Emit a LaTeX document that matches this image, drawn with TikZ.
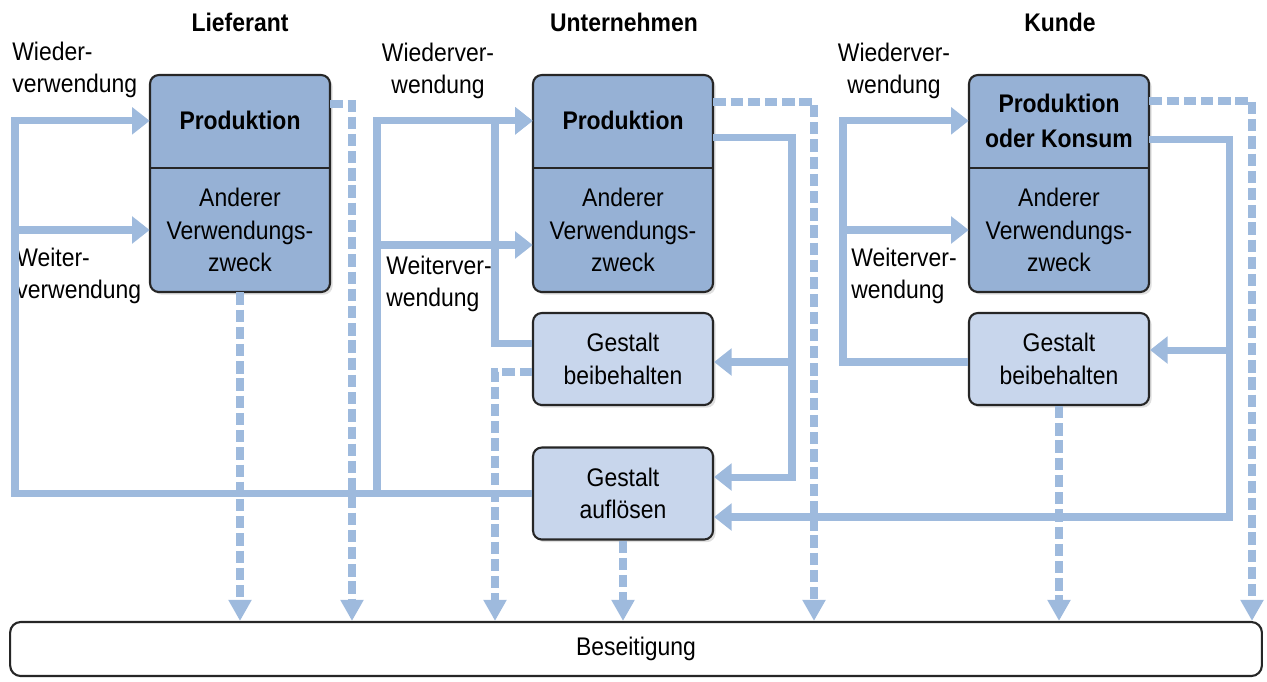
\documentclass[tikz,border=0pt]{standalone}
\usepackage{fontspec}
\setmainfont{Liberation Sans}[FakeStretch=0.9]
\usetikzlibrary{positioning,arrows.meta,shadows}
\definecolor{boxblue}{RGB}{150,177,213}
\definecolor{paleblue}{RGB}{200,214,236}
\definecolor{flowblue}{RGB}{158,186,221}
\tikzset{
    txt/.style ={
        font=\fontsize{14.5}{18.5}\selectfont,
        inner sep=0pt
    },
    head/.style ={
        txt,
        font=\fontsize{14.5}{18.5}\selectfont\bfseries
    },
    bigbox/.style ={
        shape=rectangle,
        rounded corners=5pt,
        draw=black!85,
        line width=1.2pt,
        fill=boxblue,
        minimum width=3.6cm,
        minimum height=4.34cm,
        drop shadow={opacity=0.25,shadow xshift=1.5pt,shadow yshift=-1.5pt}
    },
    toppart/.style ={
        txt,
        align=center,
        minimum width=3.6cm,
        minimum height=1.86cm
    },
    botpart/.style ={
        txt,
        align=center,
        minimum width=3.6cm,
        minimum height=2.48cm
    },
    smallbox/.style ={
        txt,
        align=center,
        rounded corners=5pt,
        draw=black!85,
        line width=1.2pt,
        fill=paleblue,
        minimum width=3.6cm,
        minimum height=1.84cm,
        drop shadow={opacity=0.25,shadow xshift=1.5pt,shadow yshift=-1.5pt}
    },
    endbox/.style ={
        txt,
        rounded corners=6pt,
        draw=black!85,
        line width=1.2pt,
        fill=white,
        minimum width=25.04cm,
        minimum height=1.08cm
    },
    flow/.style ={
        draw=flowblue,
        line width=4pt,
        -{Triangle[width=15pt,length=10pt]}
    },
    dflow/.style ={
        draw=flowblue,
        line width=4.4pt,
        dash pattern=on 7pt off 2.8pt,
        -{Triangle[width=12.5pt,length=12pt]}
    }
}

\begin{document}
\begin{tikzpicture}[x=0.02cm,y=-0.02cm]
    \useasboundingbox (0,0) rectangle (1267,681);

    % column heads
    \node[head] (hLief) at (240,22) {Lieferant};
    \node[head] (hUnt) at (624,22) {Unternehmen};
    \node[head] (hKun) at (1060,22) {Kunde};

    % main boxes
    \node[bigbox] (lief) at (240,183.5) {};
    \node[toppart, below=0pt of lief.north] (liefP) {\bfseries Produktion};
    \node[botpart, below=0pt of liefP] (liefA) {Anderer\\Verwendungs-\\zweck};
    \draw[black!85, line width=1.2pt] (liefA.north west) -- (liefA.north east);

    \node[bigbox] (unt) at (623,183.5) {};
    \node[toppart, below=0pt of unt.north] (untP) {\bfseries Produktion};
    \node[botpart, below=0pt of untP] (untA) {Anderer\\Verwendungs-\\zweck};
    \draw[black!85, line width=1.2pt] (untA.north west) -- (untA.north east);

    \node[bigbox] (kun) at (1059,183.5) {};
    \node[toppart, below=0pt of kun.north] (kunP) {\bfseries Produktion\\[1pt]\bfseries oder Konsum};
    \node[botpart, below=0pt of kunP] (kunA) {Anderer\\Verwendungs-\\zweck};
    \draw[black!85, line width=1.2pt] (kunA.north west) -- (kunA.north east);

    % small boxes
    \node[smallbox] (untBeib) at (623,359) {Gestalt\\beibehalten};
    \node[smallbox] (untAufl) at (623,493.5) {Gestalt\\aufl\"osen};
    \node[smallbox] (kunBeib) at (1059,359) {Gestalt\\beibehalten};
    \node[endbox] (bes) at (636,649) {Beseitigung};

    % labels
    \node[txt, anchor=west, align=left] (wiedL) at (12,70) {Wieder-\\verwendung};
    \node[txt, anchor=west, align=left] (weitL) at (16,276) {Weiter-\\verwendung};
    \node[txt, align=center] (wiedU) at (438,71) {Wiederver-\\wendung};
    \node[txt, anchor=west, align=left] (weitU) at (386,284) {Weiterver-\\wendung};
    \node[txt, align=center] (wiedK) at (894,71) {Wiederver-\\wendung};
    \node[txt, anchor=west, align=left] (weitK) at (851,276) {Weiterver-\\wendung};

    % rails and entry points
    \coordinate (railL) at (15,0);
    \coordinate (railU) at (377,0);
    \coordinate (railUb) at (495,0);
    \coordinate (railUr) at (792,0);
    \coordinate (railK) at (843,0);
    \coordinate (railKr) at (1229,0);
    \coordinate (dashL) at (352,0);
    \coordinate (dashUr) at (814,0);
    \coordinate (dashKr) at (1252,0);
    \coordinate (aufIn1) at ([yshift=0.33cm]untAufl.east);
    \coordinate (aufIn2) at ([yshift=-0.47cm]untAufl.east);
    \coordinate (untAIn) at ([yshift=-0.3cm]untA.west);
    \coordinate (beibOut) at ([yshift=0.32cm]untBeib.west);
    \coordinate (beibDrop) at ([yshift=-0.26cm]untBeib.west);
    \coordinate (beibIn) at ([yshift=-0.06cm]untBeib.east);
    \coordinate (kBeibOut) at ([yshift=-0.06cm]kunBeib.west);
    \coordinate (kBeibIn) at ([yshift=0.18cm]kunBeib.east);
    \coordinate (untOut) at ([yshift=-0.34cm]untP.east);
    \coordinate (untDrop) at ([yshift=0.37cm]untP.east);
    \coordinate (kunOut) at ([yshift=-0.37cm]kunP.east);
    \coordinate (kunDrop) at ([yshift=0.39cm]kunP.east);
    \coordinate (liefDrop) at ([yshift=0.34cm]liefP.east);

    % solid flows
    \draw[flow] (untAufl.west) -| (railL |- liefP.west) -- (liefP.west);
    \draw[flow] (railL |- liefA.west) -- (liefA.west);
    \draw[flow] (railU |- untAufl.west) |- (untP.west);
    \draw[flow] (railU |- untAIn) -- (untAIn);
    \draw[flow] (beibOut) -| (railUb |- untP.west) -- (untP.west);
    \draw[flow] (untOut) -| (railUr |- aufIn1) -- (aufIn1);
    \draw[flow] (railUr |- beibIn) -- (beibIn);
    \draw[flow] (kBeibOut) -| (railK |- kunP.west) -- (kunP.west);
    \draw[flow] (railK |- kunA.west) -- (kunA.west);
    \draw[flow] (kunOut) -| (railKr |- aufIn2) -- (aufIn2);
    \draw[flow] (railKr |- kBeibIn) -- (kBeibIn);

    % dashed flows
    \draw[dflow] (liefA.south) -- (liefA.south |- bes.north);
    \draw[dflow] (liefDrop) -| (dashL |- bes.north);
    \draw[dflow] (beibDrop) -| (railUb |- bes.north);
    \draw[dflow] (untAufl.south) -- (untAufl.south |- bes.north);
    \draw[dflow] (untDrop) -| (dashUr |- bes.north);
    \draw[dflow] (kunBeib.south) -- (kunBeib.south |- bes.north);
    \draw[dflow] (kunDrop) -| (dashKr |- bes.north);
\end{tikzpicture}
\end{document}
